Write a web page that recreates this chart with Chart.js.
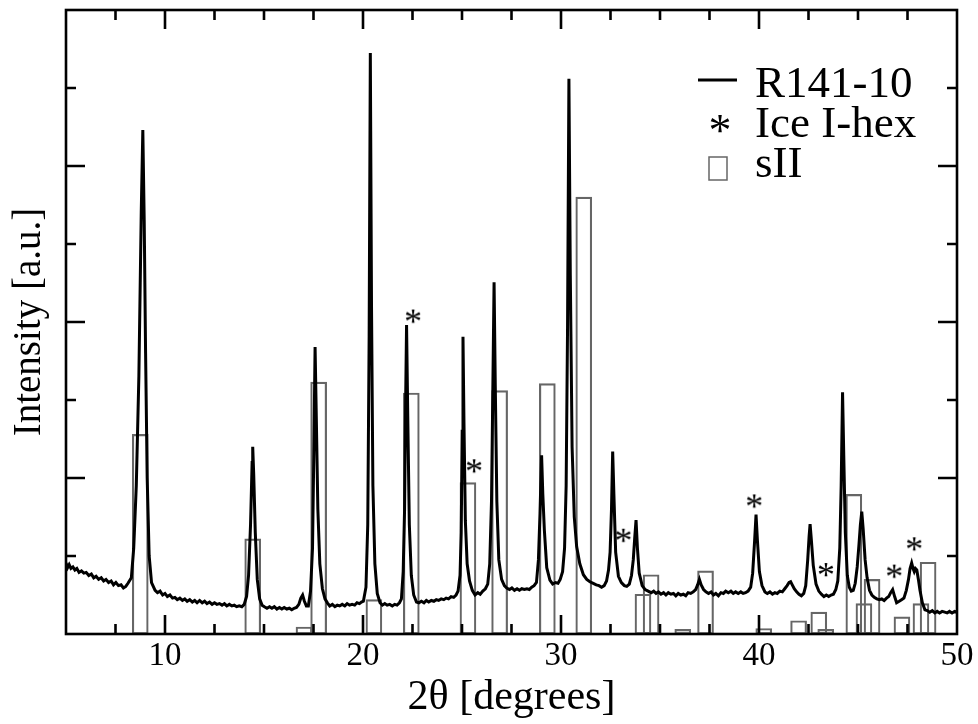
<!DOCTYPE html>
<html><head><meta charset="utf-8">
<script src="https://cdn.jsdelivr.net/npm/chart.js@4.4.1/dist/chart.umd.min.js"></script>
<style>html,body{margin:0;padding:0;background:#fff;}</style>
</head><body>
<canvas id="c" width="978" height="724"></canvas>
<script>
// ---- XRD scan R141-10 (2θ in degrees, intensity in a.u.) ----
const scanTheta = [
 5.00,5.08,5.16,5.25,5.35,5.45,5.55,5.66,5.78,5.90,6.02,6.15,6.28,6.40,6.52,6.65,6.78,6.90,7.02,7.15,7.28,7.40,7.52,7.65,7.78,7.90,8.02,8.13,
 8.30,8.42,8.55,8.68,8.80,8.88,8.95,9.02,9.10,9.20,9.32,9.50,
 9.62,9.75,9.88,10.00,10.12,10.25,10.38,10.50,10.62,10.75,10.88,11.00,11.12,11.25,11.38,11.50,11.62,11.75,11.88,12.00,12.12,12.25,12.38,12.50,12.62,12.75,12.88,13.00,13.12,13.25,13.38,13.50,13.62,13.75,13.88,
 14.00,14.12,14.22,14.32,14.40,14.43,14.48,14.56,14.66,14.78,14.90,
 15.02,15.15,15.28,15.40,15.52,15.65,15.78,15.90,16.02,16.15,16.28,16.40,16.52,16.64,16.76,16.86,16.95,17.04,17.14,17.24,
 17.35,17.45,17.52,17.58,17.64,17.72,17.82,17.95,18.08,18.20,
 18.32,18.45,18.58,18.70,18.82,18.95,19.08,19.20,19.32,19.45,19.58,19.70,19.82,19.92,20.02,
 20.15,20.24,20.31,20.37,20.43,20.50,20.60,20.72,20.86,
 20.98,21.10,21.22,21.35,21.48,21.60,21.72,21.84,21.94,
 22.03,22.10,22.15,22.20,22.26,22.34,22.44,22.56,22.70,
 22.82,22.95,23.08,23.20,23.32,23.45,23.58,23.70,23.82,23.95,24.08,24.20,24.32,24.45,24.58,24.70,24.80,
 24.90,24.96,25.01,25.05,25.10,25.17,25.26,25.38,25.52,25.66,25.80,25.92,26.05,26.18,26.30,
 26.40,26.49,26.56,26.62,26.68,26.76,26.86,27.00,27.14,
 27.26,27.40,27.52,27.65,27.78,27.90,28.02,28.15,28.28,28.40,28.52,28.64,28.76,
 28.86,28.94,29.02,29.08,29.16,29.28,29.44,29.58,29.72,29.85,29.96,
 30.08,30.18,30.26,30.33,30.40,30.47,30.56,30.67,30.79,30.95,31.13,31.30,31.46,31.63,31.78,31.92,32.05,32.18,32.30,
 32.40,32.48,32.55,32.61,32.67,32.76,32.90,33.05,33.20,33.32,33.45,33.56,
 33.65,33.72,33.79,33.86,33.95,34.10,34.25,34.40,
 34.55,34.68,34.80,34.92,35.05,35.18,35.30,35.42,35.55,35.68,35.80,35.92,36.05,36.18,36.30,36.42,36.55,36.68,36.80,36.90,36.99,37.08,37.20,37.32,37.45,37.58,37.70,37.82,37.95,38.08,38.20,38.32,38.45,38.58,38.70,38.82,38.95,39.08,39.20,39.32,39.45,
 39.58,39.68,39.78,39.85,39.92,40.02,40.15,40.30,
 40.42,40.55,40.68,40.80,40.92,41.05,41.18,41.30,41.42,41.52,41.60,41.68,41.78,41.90,42.02,42.14,42.26,
 42.36,42.46,42.53,42.58,42.64,42.74,42.88,43.02,43.15,43.28,43.40,43.52,43.64,43.76,43.88,43.98,
 44.08,44.15,44.22,44.28,44.36,44.46,44.56,44.66,44.76,44.86,44.96,45.05,45.12,45.19,45.26,45.36,45.46,45.58,45.70,45.82,
 45.95,46.08,46.20,46.32,46.44,46.55,46.65,46.75,46.85,46.95,47.08,47.20,47.32,47.44,47.55,47.63,47.71,47.78,47.84,47.90,47.97,48.05,48.13,48.25,48.38,48.50,48.62,48.75,48.88,49.00,49.12,49.25,49.38,49.50,49.62,49.75,49.88,50.00
];
const scanIntensity = [
 0.91,0.85,0.89,0.84,0.86,0.82,0.84,0.79,0.81,0.78,0.79,0.75,0.77,0.72,0.74,0.70,0.72,0.68,0.70,0.66,0.68,0.63,0.66,0.62,0.63,0.59,0.61,0.65,
 0.72,1.10,1.90,3.30,5.40,6.46,5.30,3.60,2.00,1.00,0.66,0.56,
 0.53,0.55,0.50,0.52,0.48,0.50,0.46,0.47,0.44,0.46,0.43,0.45,0.42,0.44,0.41,0.43,0.40,0.43,0.40,0.42,0.39,0.41,0.38,0.40,0.38,0.39,0.37,0.39,0.36,0.38,0.36,0.37,0.35,0.36,0.35,
 0.38,0.48,0.75,1.40,2.20,2.40,2.05,1.30,0.70,0.45,0.37,
 0.35,0.33,0.35,0.33,0.35,0.32,0.34,0.32,0.34,0.32,0.33,0.31,0.33,0.34,0.38,0.46,0.50,0.42,0.36,0.36,
 0.55,1.10,2.40,3.68,2.80,1.60,0.90,0.58,0.45,0.40,
 0.36,0.38,0.35,0.37,0.36,0.38,0.36,0.39,0.37,0.38,0.37,0.40,0.39,0.41,0.42,
 0.60,1.40,3.80,7.45,4.20,1.90,0.90,0.52,0.40,
 0.37,0.39,0.37,0.38,0.36,0.38,0.37,0.40,0.45,
 0.80,1.60,2.90,3.96,2.80,1.40,0.75,0.50,0.41,
 0.40,0.42,0.40,0.43,0.41,0.43,0.42,0.44,0.43,0.45,0.44,0.46,0.45,0.48,0.47,0.50,0.55,
 0.75,1.30,2.60,3.81,2.70,1.45,0.90,0.68,0.56,0.50,0.53,0.51,0.55,0.58,0.64,
 0.90,1.70,3.20,4.51,3.20,1.70,0.95,0.70,0.62,
 0.59,0.57,0.59,0.56,0.58,0.56,0.58,0.57,0.58,0.57,0.60,0.62,0.66,
 0.95,1.55,2.29,1.80,1.33,0.85,0.69,0.64,0.66,0.65,0.70,
 0.80,1.10,1.90,3.90,7.12,4.60,2.40,1.50,1.12,0.90,0.76,0.70,0.67,0.65,0.63,0.62,0.60,0.62,0.68,
 0.82,1.05,1.60,2.34,1.80,1.05,0.74,0.66,0.62,0.61,0.64,0.75,
 0.95,1.22,1.46,1.10,0.78,0.62,0.57,0.55,
 0.53,0.55,0.52,0.54,0.51,0.53,0.50,0.53,0.51,0.52,0.49,0.52,0.50,0.51,0.49,0.53,0.52,0.54,0.57,0.63,0.70,0.63,0.57,0.54,0.52,0.54,0.50,0.52,0.49,0.53,0.52,0.55,0.53,0.55,0.52,0.54,0.52,0.54,0.52,0.53,0.55,
 0.60,0.78,1.20,1.53,1.20,0.80,0.62,0.54,
 0.52,0.54,0.51,0.53,0.52,0.55,0.54,0.58,0.62,0.66,0.67,0.63,0.58,0.54,0.51,0.49,0.52,
 0.62,0.95,1.25,1.41,1.22,0.88,0.64,0.55,0.51,0.48,0.50,0.48,0.50,0.51,0.57,0.68,
 1.10,1.90,3.10,2.30,1.30,0.75,0.60,0.55,0.56,0.65,0.86,1.15,1.40,1.57,1.35,0.95,0.72,0.56,0.50,0.47,
 0.45,0.44,0.45,0.43,0.46,0.48,0.53,0.57,0.48,0.40,0.42,0.44,0.46,0.56,0.70,0.84,0.91,0.84,0.80,0.84,0.82,0.70,0.56,0.40,0.31,0.30,0.28,0.30,0.27,0.29,0.27,0.29,0.28,0.27,0.29,0.27,0.29,0.28
];

// ---- sII reference reflections ----
const sIIPos = [8.75,14.43,17.02,17.76,20.55,22.44,25.30,26.90,29.31,31.15,34.14,34.55,36.15,37.30,40.24,42.00,43.02,43.37,44.79,45.30,45.71,47.22,48.18,48.54];
const sIIInt = [2.56,1.22,0.09,3.23,0.44,3.09,1.94,3.12,3.21,5.60,0.51,0.76,0.06,0.81,0.07,0.17,0.28,0.06,1.79,0.39,0.70,0.22,0.39,0.92];

// ---- Ice I-hex markers ----
const icePos = [22.53,25.61,33.15,39.76,43.38,46.83,47.84];
const iceInt = [4.07,2.15,1.26,1.70,0.82,0.80,1.15];

// ---- axes ----
const xMin = 5, xMax = 50, yMin = 0, yMax = 8;
const xTickValues = [10,20,30,40,50];
const xTickLabels = ['10','20','30','40','50'];
const xMinorStep = 2.5, xMajorStep = 10;
const yMinorStep = 1, yMajorStep = 2;
const legendLabels = ['R141-10','Ice I-hex','sII'];
const xTitle = '2θ [degrees]';
const yTitle = 'Intensity [a.u.]';

const SERIF = '"Liberation Serif", "Times New Roman", serif';

function makeStar(size, fontPx) {
  const c = document.createElement('canvas');
  c.width = size; c.height = size;
  const g = c.getContext('2d');
  g.font = fontPx + 'px ' + SERIF;
  g.fillStyle = '#000';
  g.textAlign = 'center';
  g.textBaseline = 'alphabetic';
  const m = g.measureText('*');
  const bx = size / 2 + (m.actualBoundingBoxLeft - m.actualBoundingBoxRight) / 2;
  const by = size / 2 + (m.actualBoundingBoxAscent - m.actualBoundingBoxDescent) / 2;
  g.fillText('*', bx, by);
  return c;
}
const starPlot = makeStar(30, 36);
const starLegend = makeStar(36, 46);

const frameTicks = {
  id: 'frameTicks',
  afterDraw(chart) {
    const {ctx, chartArea: a, scales: {x, y}} = chart;
    ctx.save();
    ctx.strokeStyle = '#000';
    ctx.lineWidth = 2.6;
    ctx.lineCap = 'butt';
    ctx.beginPath();
    for (let v = Math.ceil(x.min / xMinorStep) * xMinorStep; v <= x.max + 1e-9; v += xMinorStep) {
      const px = x.getPixelForValue(v);
      if (px <= a.left + 1 || px >= a.right - 1) continue;
      const len = (Math.abs(v / xMajorStep - Math.round(v / xMajorStep)) < 1e-6) ? 19 : 10;
      ctx.moveTo(px, a.bottom); ctx.lineTo(px, a.bottom - len);
      ctx.moveTo(px, a.top); ctx.lineTo(px, a.top + len);
    }
    for (let v = y.min; v <= y.max + 1e-9; v += yMinorStep) {
      const py = y.getPixelForValue(v);
      if (py <= a.top + 1 || py >= a.bottom - 1) continue;
      const len = (Math.abs(v / yMajorStep - Math.round(v / yMajorStep)) < 1e-6) ? 19 : 10;
      ctx.moveTo(a.left, py); ctx.lineTo(a.left + len, py);
      ctx.moveTo(a.right, py); ctx.lineTo(a.right - len, py);
    }
    ctx.stroke();
    ctx.strokeRect(a.left, a.top, a.right - a.left, a.bottom - a.top);
    ctx.restore();
  }
};

const legendPlugin = {
  id: 'customLegend',
  afterDraw(chart) {
    const {ctx, chartArea: a} = chart;
    const tx = a.right - 202;
    const base = [a.top + 87, a.top + 127, a.top + 167];
    ctx.save();
    ctx.fillStyle = '#000';
    ctx.font = '45px ' + SERIF;
    ctx.textAlign = 'left';
    ctx.textBaseline = 'alphabetic';
    legendLabels.forEach((t, i) => ctx.fillText(t, tx, base[i]));
    // line symbol
    ctx.strokeStyle = '#000';
    ctx.lineWidth = 2.8;
    ctx.beginPath();
    ctx.moveTo(a.right - 259, a.top + 70);
    ctx.lineTo(a.right - 220, a.top + 70);
    ctx.stroke();
    // asterisk symbol
    ctx.drawImage(starLegend, a.right - 237 - starLegend.width / 2, a.top + 114 - starLegend.height / 2);
    // box symbol
    ctx.strokeStyle = '#666';
    ctx.lineWidth = 1.5;
    ctx.strokeRect(a.right - 248, a.top + 147, 18, 23);
    ctx.restore();
  }
};

new Chart(document.getElementById('c'), {
  type: 'line',
  data: {
    datasets: [
      {
        type: 'line', label: legendLabels[0],
        data: scanTheta.map((t, i) => ({x: t, y: scanIntensity[i]})),
        borderColor: '#000', borderWidth: 3, pointRadius: 0, tension: 0, fill: false, order: 0
      },
      {
        type: 'scatter', label: legendLabels[1],
        data: icePos.map((t, i) => ({x: t, y: iceInt[i]})),
        pointStyle: starPlot, pointRadius: 8, showLine: false, order: 1
      },
      {
        type: 'bar', label: legendLabels[2],
        data: sIIPos.map((t, i) => ({x: t, y: sIIInt[i]})),
        backgroundColor: 'rgba(0,0,0,0)', borderColor: '#666', borderWidth: 1.5,
        barThickness: 16, grouped: false, borderSkipped: false, order: 2
      }
    ]
  },
  options: {
    responsive: false, animation: false, devicePixelRatio: 1,
    layout: {padding: {left: 0, right: 21, top: 10, bottom: 0}},
    plugins: {legend: {display: false}, tooltip: {enabled: false}},
    scales: {
      x: {
        type: 'linear', min: xMin, max: xMax, offset: false,
        grid: {display: false, drawTicks: false}, border: {display: false},
        afterBuildTicks: s => { s.ticks = xTickValues.map(v => ({value: v})); },
        ticks: {
          callback: v => { const i = xTickValues.indexOf(v); return i >= 0 ? xTickLabels[i] : ''; },
          font: {family: SERIF, size: 33}, color: '#000', padding: 3, maxRotation: 0, autoSkip: false
        },
        title: {display: true, text: xTitle, font: {family: SERIF, size: 42}, color: '#000', padding: {top: 0, bottom: 1}},
        afterFit: s => { s.height = 90; }
      },
      y: {
        type: 'linear', min: yMin, max: yMax,
        grid: {display: false, drawTicks: false}, border: {display: false},
        ticks: {display: false},
        title: {display: true, text: yTitle, font: {family: SERIF, size: 39}, color: '#000', padding: {top: 6, bottom: 0}},
        afterFit: s => { s.width = 66; }
      }
    }
  },
  plugins: [frameTicks, legendPlugin]
});
</script>
</body></html>
